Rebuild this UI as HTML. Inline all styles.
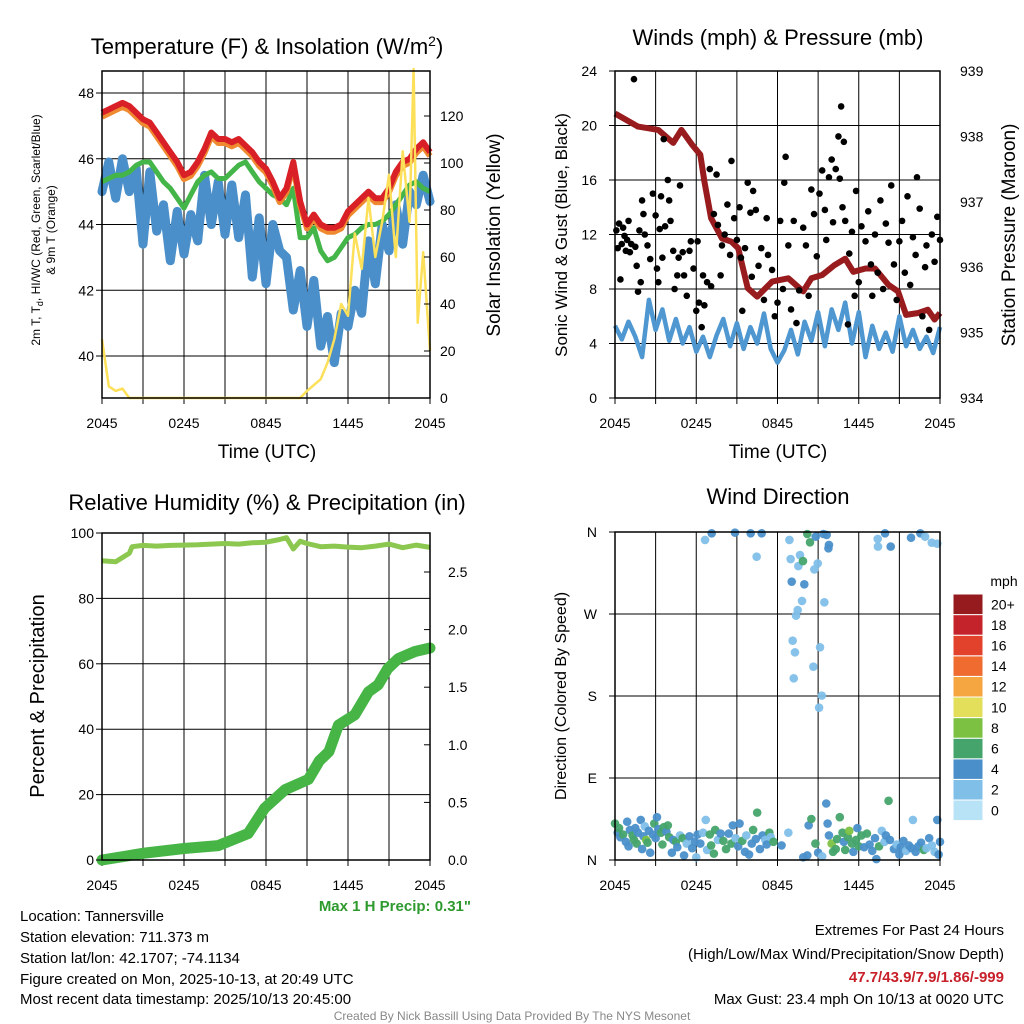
<!DOCTYPE html>
<html><head><meta charset="utf-8"><style>
html,body{margin:0;padding:0;background:#fff}
svg{display:block;font-family:"Liberation Sans",Arial,sans-serif}
</style></head><body>
<svg id="s" width="1024" height="1024" viewBox="0 0 1024 1024" xmlns="http://www.w3.org/2000/svg">
<g id="g1"></g>
<g id="g2"></g>
<g id="g3"></g>
<g id="g4"></g>
<text x="267" y="54" font-size="22" text-anchor="middle">Temperature (F) &amp; Insolation (W/m<tspan dy="-8" font-size="14">2</tspan><tspan dy="8">)</tspan></text>
<text x="778" y="45" font-size="22" text-anchor="middle">Winds (mph) &amp; Pressure (mb)</text>
<text x="267" y="510" font-size="22" text-anchor="middle">Relative Humidity (%) &amp; Precipitation (in)</text>
<text x="778" y="504" font-size="22" text-anchor="middle">Wind Direction</text>
<text x="267" y="458" font-size="19" text-anchor="middle">Time (UTC)</text>
<text x="778" y="458" font-size="19" text-anchor="middle">Time (UTC)</text>
<text transform="translate(40,230) rotate(-90)" font-size="12" text-anchor="middle">2m T, T<tspan dy="3" font-size="9">d</tspan><tspan dy="-3">, HI/WC (Red, Green, Scarlet/Blue)</tspan></text>
<text transform="translate(55,230) rotate(-90)" font-size="12" text-anchor="middle">&amp; 9m T (Orange)</text>
<text transform="translate(500,235) rotate(-90)" font-size="19" text-anchor="middle">Solar Insolation (Yellow)</text>
<text transform="translate(567,235) rotate(-90)" font-size="17" text-anchor="middle">Sonic Wind &amp; Gust (Blue, Black)</text>
<text transform="translate(1015,235) rotate(-90)" font-size="19" text-anchor="middle">Station Pressure (Maroon)</text>
<text transform="translate(44,696) rotate(-90)" font-size="20" text-anchor="middle">Percent &amp; Precipitation</text>
<text transform="translate(566,696) rotate(-90)" font-size="16" text-anchor="middle">Direction (Colored By Speed)</text>
<text x="471" y="911" font-size="15" font-weight="bold" fill="#2e9a2e" text-anchor="end">Max 1 H Precip: 0.31"</text>
<g font-size="15">
<text x="20" y="921">Location: Tannersville</text>
<text x="20" y="942">Station elevation: 711.373 m</text>
<text x="20" y="963">Station lat/lon: 42.1707; -74.1134</text>
<text x="20" y="984">Figure created on Mon, 2025-10-13, at 20:49 UTC</text>
<text x="20" y="1004">Most recent data timestamp: 2025/10/13 20:45:00</text>
</g>
<g font-size="15" text-anchor="end">
<text x="1004" y="935">Extremes For Past 24 Hours</text>
<text x="1004" y="959">(High/Low/Max Wind/Precipitation/Snow Depth)</text>
<text x="1004" y="982" fill="#c8202a" font-weight="bold">47.7/43.9/7.9/1.86/-999</text>
<text x="1004" y="1004">Max Gust: 23.4 mph On 10/13 at 0020 UTC</text>
</g>
<text x="512" y="1020" font-size="12" fill="#888" text-anchor="middle">Created By Nick Bassill Using Data Provided By The NYS Mesonet</text>
</svg>
<script>
// ---- data ----
const hours = [0,0.5,1,1.5,2,2.5,3,3.5,4,4.5,5,5.5,6,6.5,7,7.5,8,8.5,9,9.5,10,10.5,11,11.5,12,12.5,13,13.5,14,14.5,15,15.5,16,16.5,17,17.5,18,18.5,19,19.5,20,20.5,21,21.5,22,22.5,23,23.5,24];
const tempRed = [47.4,47.5,47.6,47.7,47.6,47.4,47.2,47.1,46.8,46.5,46.2,45.9,45.5,45.6,45.9,46.3,46.8,46.6,46.6,46.5,46.6,46.4,46.2,45.9,45.7,45.3,44.8,45.1,45.9,44.7,44.0,44.3,44.0,43.9,43.9,44.0,44.4,44.6,44.8,45.0,44.8,44.8,45.1,45.6,45.9,46.0,46.3,46.5,46.2];
const tempGreen = [45.3,45.4,45.5,45.5,45.6,45.8,45.9,45.9,45.6,45.3,45.1,44.8,44.5,44.9,45.3,45.5,45.6,45.4,45.4,45.6,45.8,45.9,45.6,45.3,45.1,44.9,44.8,44.6,45.1,43.6,43.6,43.9,43.2,42.9,43.0,43.3,43.6,43.7,43.9,44.0,44.0,44.1,44.3,44.6,44.9,45.2,45.3,45.1,45.0];
const tempBlue = [45.0,45.9,44.8,46.0,45.0,45.7,43.4,45.6,43.8,44.6,42.9,44.4,43.1,44.3,43.5,45.5,44.0,45.3,43.7,45.2,43.6,44.9,42.4,44.2,42.2,44.0,43.2,43.0,41.4,42.6,40.9,42.3,40.3,41.2,39.8,41.3,40.9,42.0,41.3,43.5,42.2,44.0,43.2,44.6,43.4,45.0,44.6,45.5,44.7];
const solarT = [0,0.5,1,1.5,2,14.5,15,16,16.5,17,17.5,18,18.5,19,19.5,20,20.5,21,21.5,22,22.5,22.8,23.1,23.5,24];
const solarV = [25,5,3,4,0,0,3,8,15,25,40,35,70,55,85,60,75,95,60,105,75,140,32,62,20];
const tempTicks = [40,42,44,46,48];
const solarTicks = [0,20,40,60,80,100,120];
const timeLabels = ["2045","0245","0845","1445","2045"];
const windV = [5.3,4.3,5.6,4.5,3.0,7.2,5.0,6.5,4.2,5.8,4.0,5.2,3.4,4.5,3.0,4.6,5.8,3.8,5.5,3.6,5.2,4.0,6.2,3.6,2.6,3.5,5.0,3.2,5.6,4.2,6.3,3.8,6.5,5.0,7.0,4.0,6.3,3.0,5.3,3.6,4.8,3.4,6.0,3.8,5.0,3.6,4.5,3.3,5.2];
const presT = [0,1.7,3.2,4.3,4.9,5.7,6.3,6.6,7.1,7.9,8.6,9.1,9.8,10.5,11.6,12.8,13.9,14.5,15.3,16.2,17.0,17.6,18.5,19.2,20.2,20.9,21.5,22.4,23.1,23.6,24];
const presV = [938.35,938.15,938.1,937.9,938.1,937.87,937.72,937.31,936.75,936.44,936.39,936.29,935.68,935.55,935.78,935.83,935.63,935.83,935.88,936.03,936.13,935.93,935.98,935.98,935.73,935.63,935.27,935.3,935.35,935.2,935.3];
const gustT = [0.1,0.2,0.3,0.4,0.5,0.6,0.7,0.8,0.9,1.0,1.1,1.2,1.4,1.5,1.6,1.7,1.8,1.9,2.0,2.1,2.2,2.4,2.6,2.8,3.0,3.1,3.2,3.3,3.4,3.5,3.6,3.7,3.9,4.0,4.1,4.3,4.4,4.6,4.7,4.8,5.0,5.1,5.3,5.5,5.6,5.8,6.0,6.1,6.2,6.4,6.5,6.6,6.8,7.0,7.1,7.3,7.5,7.6,7.8,7.9,8.1,8.3,8.5,8.6,8.8,9.0,9.2,9.3,9.4,9.6,9.8,10.0,10.1,10.2,10.4,10.6,10.8,11.0,11.2,11.3,11.6,11.8,12.0,12.2,12.4,12.5,12.6,12.8,13.0,13.2,13.4,13.6,13.9,14.1,14.3,14.5,14.7,14.9,15.1,15.3,15.5,15.6,15.8,16.0,16.1,16.3,16.5,16.6,16.7,16.8,16.9,17.0,17.2,17.3,17.5,17.7,17.8,18.0,18.2,18.5,18.7,18.9,19.0,19.2,19.4,19.6,19.8,20.0,20.2,20.4,20.6,20.8,21.0,21.2,21.4,21.6,21.8,22.0,22.2,22.3,22.5,22.7,22.9,23.0,23.2,23.4,23.6,23.8,24.0];
const gustV = [12.3,11.0,12.8,8.7,11.3,12.5,11.9,10.8,11.6,13.0,10.7,11.3,23.4,11.1,9.7,7.8,12.3,8.5,14.5,13.5,12.0,11.2,10.2,15.0,13.4,9.5,8.5,12.4,14.8,10.3,19.0,12.6,16.0,14.5,13.0,10.8,8.0,9.0,10.3,15.6,10.7,9.0,7.5,10.8,11.5,9.5,6.4,11.5,7.0,5.2,9.0,6.8,8.5,16.8,8.2,13.5,16.4,12.7,9.0,11.2,12.0,14.2,10.5,17.4,13.2,11.6,14.0,10.3,6.4,11.0,15.8,13.6,8.9,15.2,13.8,9.7,11.0,7.2,13.2,10.5,9.4,6.0,7.0,13.0,8.0,15.8,17.7,11.2,6.5,13.0,5.5,7.9,12.5,11.2,7.5,15.3,13.5,10.4,15.0,16.7,13.8,11.6,16.2,17.5,12.9,16.8,19.2,16.1,21.4,14.0,18.8,13.0,5.4,10.6,12.2,7.5,15.2,8.5,12.6,11.5,13.7,9.8,7.5,12.0,9.2,14.5,8.0,12.8,11.4,15.6,9.8,7.2,11.5,13.0,9.2,14.8,8.3,11.8,10.5,16.2,13.9,6.0,9.6,11.2,5.0,12.0,10.0,13.3,11.6];
const windTicks = [0,4,8,12,16,20,24];
const presTicks = [934,935,936,937,938,939];
const rhT = [0,1,2,2.2,3,4,5,6,7,8,9,10,11,12,13,13.5,14,14.5,15,16,17,18,19,20,21,22,23,24];
const rhV = [91.5,91.2,93.8,95.8,96.2,96.0,96.2,96.3,96.4,96.6,96.8,96.6,97.0,97.2,98.0,98.6,95.1,97.5,96.8,95.8,96.0,95.7,95.5,96.0,96.6,95.5,96.3,95.6];
const precT = [0,3.1,6,8.5,10.7,11.9,13.4,15.1,15.9,16.6,17.3,18.5,19.5,20.2,20.9,21.7,22.9,24];
const precV = [0,0.06,0.1,0.125,0.23,0.45,0.61,0.70,0.86,0.94,1.17,1.26,1.46,1.52,1.66,1.75,1.81,1.84];
const pctTicks = [0,20,40,60,80,100];
const precTicks = ["0.0","0.5","1.0","1.5","2.0","2.5"];
const dirT = [6.65,7.14,8.86,10.02,10.83,10.46,12.88,12.97,13.66,13.54,13.88,14.2,14.4,14.82,14.97,14.72,15.39,15.63,15.8,15.76,13.05,13.98,13.81,13.49,13.37,13.12,13.29,15.14,14.65,13.2,15.46,15.27,15.07,19.4,19.94,20.36,19.42,21.86,22.55,22.9,23.39,23.8,
0.0,0.2,0.3,0.4,0.6,0.8,0.9,1.0,1.1,1.3,1.4,1.5,1.6,1.7,1.9,2.0,2.1,2.2,2.3,2.4,2.5,2.6,2.8,2.9,3.0,3.1,3.2,3.4,3.5,3.6,3.8,3.9,4.0,4.2,4.3,4.5,4.6,4.8,5.0,5.1,5.3,5.5,5.7,5.9,6.0,6.1,6.3,6.5,6.7,6.8,7.0,7.1,7.3,7.4,7.6,7.8,8.0,8.2,8.4,8.6,8.7,8.9,9.1,9.2,9.4,9.6,9.7,9.9,10.1,10.2,10.4,10.5,10.7,10.9,11.1,11.2,11.4,11.5,11.7,12.3,12.8,13.9,14.2,14.3,14.5,14.8,15.0,15.3,15.6,15.7,15.8,16.0,16.1,16.3,16.4,16.6,16.8,16.9,17.0,17.2,17.3,17.5,17.6,17.8,17.9,18.0,18.2,18.4,18.6,18.8,19.0,19.2,19.3,19.5,19.7,19.9,20.0,20.2,20.3,20.6,20.8,21.0,21.1,21.3,21.5,21.7,21.9,22.0,22.2,22.4,22.6,22.8,23.0,23.2,23.4,23.6,23.8,23.9,24.0];
const dirV = [351.3,358.6,359.3,358.6,358.6,332.9,351.3,330.3,334.7,322.6,328.1,357.8,348.7,354.9,325.5,318.9,357.8,356.8,345.8,342.1,305.5,302.6,284.3,274.4,268.2,240.7,227.9,233.4,212.2,199.4,282.8,180.4,167.2,352.4,358.6,344,344,353.8,358.6,354.9,348.3,347.2,
40,30,35,25,28,20,42,15,33,27,22,35,18,30,44,12,26,37,22,19,32,8,28,40,24,47,34,30,17,36,31,38,25,8,22,20,14,27,24,5,18,26,13,20,3,28,18,30,44,11,28,16,7,33,22,29,21,12,29,18,38,24,15,40,21,9,27,6,18,33,23,52,12,27,22,17,30,25,20,16,30,3,5,38,45,18,8,4,62,40,27,18,9,12,23,47,30,20,11,25,32,18,9,22,35,15,27,14,29,17,10,24,1,15,32,20,27,65,22,12,17,6,14,21,10,16,13,44,9,15,19,11,13,24,16,9,44,6,20];
const dirS = [2,4,4,4,4,2,2,2,2,2,6,6,6,4,2,2,4,4,4,4,4,4,2,2,2,2,2,2,2,2,2,2,2,2,4,4,2,4,4,2,2,2,
6,4,6,4,6,4,4,4,4,6,6,4,6,4,4,4,4,2,8,6,4,4,4,6,4,4,4,6,6,6,4,6,6,4,4,6,4,2,6,4,2,4,4,4,2,4,4,2,2,2,6,6,6,6,2,4,6,6,4,6,4,2,4,4,6,4,2,4,4,6,4,6,4,4,2,4,6,2,6,4,2,4,4,4,6,6,4,2,4,4,4,8,6,6,6,6,6,4,6,6,8,6,4,6,4,6,6,4,6,4,4,4,4,6,2,2,4,6,4,4,2,4,4,4,2,4,4,2,4,4,4,6,2,4,2,2,4,4,4,2,4,2,4,4];
const dirTicks = [0,90,180,270,360];
const dirLabels = ["N","E","S","W","N"];
const cbLabels = ["0","2","4","6","8","10","12","14","16","18","20+"];
const cbColors = ["#b8e3f7","#7fbfe8","#4a8fca","#45a46c","#7cc142","#e4df5a","#f5a640","#ef6b2f","#e2412c","#c5232b","#951b1e"];

// ---- helpers ----
const NS="http://www.w3.org/2000/svg";
function mk(parent,tag,attrs){const e=document.createElementNS(NS,tag);for(const k in attrs)e.setAttribute(k,attrs[k]);parent.appendChild(e);return e;}
function lin(d0,d1,r0,r1){return v=>r0+(v-d0)*(r1-r0)/(d1-d0);}
function pathFrom(xs,ys,fx,fy){return xs.map((x,i)=>(i?"L":"M")+fx(x).toFixed(1)+","+fy(ys[i]).toFixed(1)).join("");}
function frame(g,x0,x1,y0,y1,yTickVals,fy,hasTime){
  const fx=lin(0,24,x0,x1);
  for(let h=3;h<24;h+=3){const l=mk(g,"line",{x1:fx(h),x2:fx(h),y1:y0,y2:y1,stroke:"#000","stroke-width":1});
    
    }
  yTickVals.forEach(v=>{const y=fy(v);if(y>y0+1&&y<y1-1){const l=mk(g,"line",{x1:x0,x2:x1,y1:y,y2:y,stroke:"#000","stroke-width":1});
    
    }});
  for(let h=0;h<=24;h+=3){const t=mk(g,"line",{x1:fx(h),x2:fx(h),y1:y1,y2:y1+6,stroke:"#000","stroke-width":1});
    
    }
  if(hasTime){timeLabels.forEach((s,i)=>{const t=mk(g,"text",{x:fx(i*6),y:y1+30,"font-size":14,"text-anchor":"middle"});t.textContent=s;
    
    });}
  return fx;
}
function border(g,x0,x1,y0,y1){const r=mk(g,"rect",{x:x0,y:y0,width:x1-x0,height:y1-y0,fill:"none",stroke:"#000","stroke-width":1.5});
  
  }
function yLabels(g,vals,labels,fy,x,anchor,tick){vals.forEach((v,i)=>{const y=fy(v);const t=mk(g,"text",{x:x,y:y+5,"font-size":14,"text-anchor":anchor});t.textContent=labels[i];
  
  
  if(tick!==undefined){const l=mk(g,"line",{x1:tick,x2:tick-6,y1:y,y2:y,stroke:"#000"});
    
    }});}

// ---- panel 1 ----
(function(){const g=document.getElementById("g1");const X0=102,X1=430,Y0=71,Y1=398;
 const fy=lin(40,48,356,93), fs=lin(0,120,398,116);
 const fx=frame(g,X0,X1,Y0,Y1,tempTicks,fy,true);
 let p=mk(g,"path",{d:pathFrom(hours,tempBlue,fx,fy),fill:"none",stroke:"#4a8fca","stroke-width":9,"stroke-linejoin":"round","stroke-linecap":"round"});
 
 
 p=mk(g,"path",{d:pathFrom(hours,tempGreen,fx,fy),fill:"none",stroke:"#44b548","stroke-width":5,"stroke-linejoin":"round"});
 
 
 p=mk(g,"path",{d:pathFrom(hours,tempRed.map(v=>v-0.12),fx,fy),fill:"none",stroke:"#f08a30","stroke-width":6,"stroke-linejoin":"round"});
 
 
 p=mk(g,"path",{d:pathFrom(hours,tempRed,fx,fy),fill:"none",stroke:"#d92027","stroke-width":6,"stroke-linejoin":"round"});
 
 
 p=mk(g,"path",{d:pathFrom(solarT,solarV,fx,fs),fill:"none",stroke:"#fde05a","stroke-width":2.5,"stroke-linejoin":"round"});
 
 
 border(g,X0,X1,Y0,Y1);
 yLabels(g,tempTicks,tempTicks.map(String),fy,94,"end",X0);
 yLabels(g,solarTicks,solarTicks.map(String),fs,440,"start");
 solarTicks.forEach(v=>{const l=mk(g,"line",{x1:X1,x2:X1-6,y1:fs(v),y2:fs(v),stroke:"#000"});
   
   });
})();

// ---- panel 2 ----
(function(){const g=document.getElementById("g2");const X0=615,X1=940,Y0=71,Y1=398;
 const fy=lin(0,24,398,71), fp=lin(934,939,398,71);
 const fx=frame(g,X0,X1,Y0,Y1,windTicks,fy,true);
 let p=mk(g,"path",{d:pathFrom(hours,windV,fx,fy),fill:"none",stroke:"#4f97d0","stroke-width":4.5,"stroke-linejoin":"round"});
 
 
 p=mk(g,"path",{d:pathFrom(presT,presV,fx,fp),fill:"none",stroke:"#981b1e","stroke-width":6,"stroke-linejoin":"round"});
 
 
 gustT.forEach((t,i)=>{const c=mk(g,"circle",{cx:fx(t),cy:fy(gustV[i]),r:3.3,fill:"#000"});
   
   });
 border(g,X0,X1,Y0,Y1);
 yLabels(g,windTicks,windTicks.map(String),fy,597,"end",X0);
 yLabels(g,presTicks,presTicks.map(String),fp,960,"start");
})();

// ---- panel 3 ----
(function(){const g=document.getElementById("g3");const X0=102,X1=430,Y0=533,Y1=860;
 const fy=lin(0,100,860,533), fp=lin(0,2.5,860,572);
 const fx=frame(g,X0,X1,Y0,Y1,pctTicks,fy,true);
 let p=mk(g,"path",{d:pathFrom(rhT,rhV,fx,fy),fill:"none",stroke:"#8cc850","stroke-width":5,"stroke-linejoin":"round"});
 
 
 p=mk(g,"path",{d:pathFrom(precT,precV,fx,fp),fill:"none",stroke:"#46b546","stroke-width":11,"stroke-linejoin":"round","stroke-linecap":"round"});
 
 
 border(g,X0,X1,Y0,Y1);
 yLabels(g,pctTicks,pctTicks.map(String),fy,94,"end",X0);
 yLabels(g,precTicks.map(Number),precTicks,fp,448,"start");
 precTicks.forEach(v=>{const l=mk(g,"line",{x1:X1,x2:X1-6,y1:fp(+v),y2:fp(+v),stroke:"#000"});
   
   });
})();

// ---- panel 4 ----
(function(){const g=document.getElementById("g4");const X0=615,X1=940,Y0=532,Y1=860;
 const fy=lin(0,360,860,532);
 const fx=frame(g,X0,X1,Y0,Y1,dirTicks,fy,true);
 const n=Math.min(dirT.length,dirV.length);
 for(let i=0;i<n;i++){const s=dirS[i]===undefined?4:dirS[i];
   const c=mk(g,"circle",{cx:fx(dirT[i]),cy:fy(dirV[i]),r:4.3,fill:cbColors[Math.min(10,Math.floor(s/2))],"fill-opacity":0.95});
   
   }
 border(g,X0,X1,Y0,Y1);
 yLabels(g,dirTicks,dirLabels,fy,597,"end",X0);
 const cb=mk(g,"g",{});
 
 
 const bx=953,bw=30,bt=594,bh=20.6;
 cbColors.forEach((col,i)=>{const y=bt+(10-i)*bh;const r=mk(cb,"rect",{x:bx,y:y,width:bw,height:bh,fill:col,stroke:"#fff","stroke-width":1});
   
   
   const t=mk(cb,"text",{x:bx+bw+8,y:y+bh/2+5,"font-size":14});t.textContent=cbLabels[i];
   
   });
 const u=mk(cb,"text",{x:1004,y:586,"font-size":14,"text-anchor":"middle"});u.textContent="mph";
 
 
})();
</script>
</body></html>
